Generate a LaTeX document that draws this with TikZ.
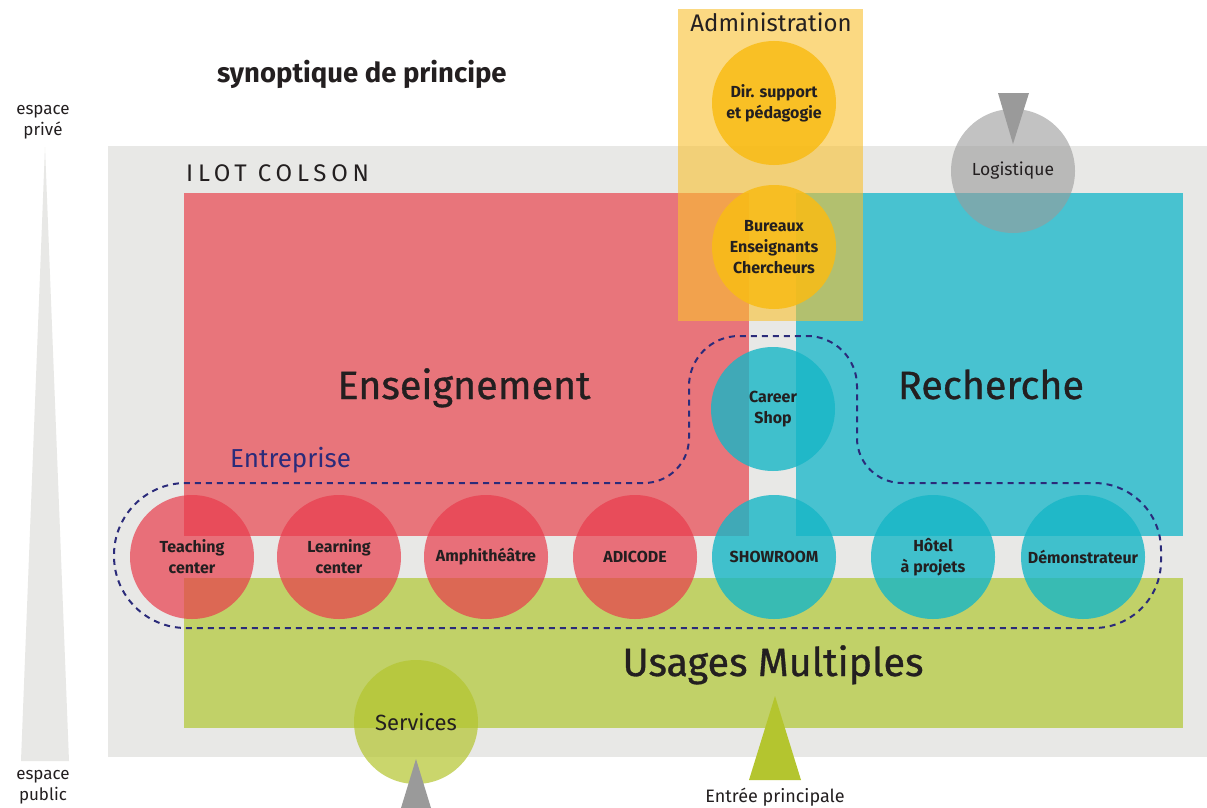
\documentclass[tikz,border=0pt]{standalone}
\usepackage{fontspec}
\setmainfont{Fira Sans}
\usepackage{xcolor}
\usepackage{tikz}
\usetikzlibrary{positioning}

\definecolor{encre}{HTML}{231F20}
\definecolor{ilot}{HTML}{E8E8E6}
\definecolor{ens}{HTML}{E8757B}
\definecolor{rech}{HTML}{48C2D0}
\definecolor{usages}{HTML}{C1D168}
\definecolor{admin}{HTML}{F9C02F}
\definecolor{rondrouge}{HTML}{E83C4C}
\definecolor{rondbleu}{HTML}{16B6C6}
\definecolor{rondjaune}{HTML}{F9BC15}
\definecolor{rondvert}{HTML}{B4C52F}
\definecolor{gris}{HTML}{9A9A9A}
\definecolor{pointille}{HTML}{2B2B7A}

\begin{document}
\begin{tikzpicture}[x=1pt, y=-1pt,
  texte/.style={text=encre, inner sep=0pt},
  rond/.style={circle, minimum size=124pt, inner sep=0pt, align=center,
    text=encre, text opacity=1, font=\fontsize{16}{21}\selectfont\bfseries},
  rouge/.style={rond, fill=rondrouge, fill opacity=0.7},
  bleu/.style={rond, fill=rondbleu, fill opacity=0.8},
  jaune/.style={rond, fill=rondjaune, fill opacity=0.85},
  grand/.style={texte, anchor=base, font=\fontsize{39.5}{42}\selectfont\addfontfeature{FakeBold=0.8}}]
  \useasboundingbox (0,0) rectangle (1207,808);
  \fill[white] (0,0) rectangle (1207,808);

  % fonds
  \fill[ilot] (108,146) rectangle (1207,757);
  \fill[ilot] (45,147) -- (69,761) -- (21,761) -- cycle;
  \fill[ens] (184,193) rectangle (749,536);
  \fill[rech] (796,193) rectangle (1183,536);
  \fill[usages] (184,578) rectangle (1183,728);
  \fill[admin, fill opacity=0.6] (678,9) rectangle (863,321);

  % poles
  \node[grand] (ens) at (464,399) {Enseignement};
  \node[grand] (rech) at (991,399) {Recherche};
  \node[grand] (usages) at (773,676) {Usages Multiples};

  % administration
  \node[jaune] (dir) at (774,103) {Dir. support\\et pédagogie};
  \node[jaune] (bureaux) at (774,247) {Bureaux\\Enseignants\\Chercheurs};

  % ronds du bas
  \node[rouge] (teach) at (192,557) {Teaching\\center};
  \node[rouge] (learn) at (339,557) {Learning\\center};
  \node[rouge] (amphi) at (486,557) {Amphithéâtre};
  \node[rouge] (adicode) at (635,557) {ADICODE};
  \node[bleu] (show) at (774,557) {SHOWROOM};
  \node[bleu] (hotel) at (933,557) {Hôtel\\à projets};
  \node[bleu] (demo) at (1083,557) {Démonstrateur};
  \node[bleu] (career) at (773,409) {Career\\Shop};

  \node[rond, fill=gris, fill opacity=0.6, font=\fontsize{17.5}{21}\selectfont] (logis) at (1013,171) {Logistique};
  \node[rond, fill=rondvert, fill opacity=0.7, font=\fontsize{22}{24}\selectfont] (services) at (416,722) {Services};

  % entreprise
  \draw[pointille, line width=2pt, dash pattern=on 6pt off 5pt]
    (400,483) [rounded corners=45pt] -- (689,483) [rounded corners=50pt] -- (689,336) -- (857,336)
    [rounded corners=45pt] -- (857,483) [rounded corners=67pt] -- (1161,483) -- (1161,628)
    [rounded corners=72pt] -- (114,628) -- (114,483) -- cycle;
  \node[texte, anchor=base west, text=pointille, font=\fontsize{26}{30}\selectfont] (entreprise) at (230,467) {Entreprise};

  % acces
  \fill[gris] (998,93) -- (1029,93) -- (1013,144) -- cycle;
  \fill[gris] (416,759) -- (431,808) -- (401,808) -- cycle;
  \fill[rondvert] (775,696) -- (801,780) -- (749,780) -- cycle;

  % textes
  \node[texte, anchor=base west, font=\fontsize{27.5}{30}\selectfont\bfseries] (synop) at (217,82) {synoptique de principe};
  \node[texte, anchor=base west, font=\fontsize{24}{26}\selectfont\addfontfeature{LetterSpace=20}] (colson) at (186,181) {ILOT COLSON};
  \node[texte, anchor=base, font=\fontsize{24}{28}\selectfont] (admin) at (771,32) {Administration};
  \node[texte, align=center, font=\fontsize{17}{21}\selectfont] (prive) at (43,122) {espace\\privé};
  \node[texte, align=center, font=\fontsize{17}{21}\selectfont] (public) at (43,787) {espace\\public};
  \node[texte, anchor=base, font=\fontsize{18}{20}\selectfont] (entree) at (775,802) {Entrée principale};
\end{tikzpicture}
\end{document}
